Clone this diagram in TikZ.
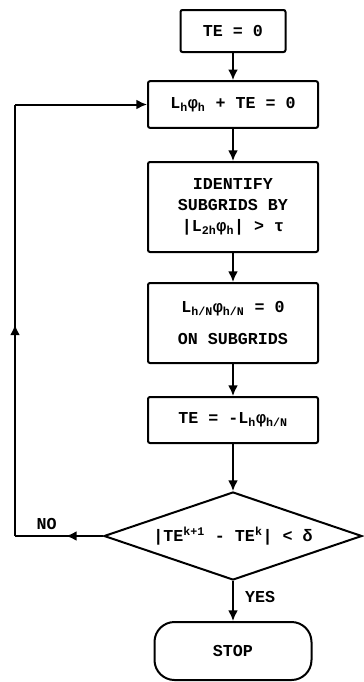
\documentclass[tikz,border=0pt]{standalone}
\usepackage{fontspec}
\setmainfont{Liberation Mono}
\usetikzlibrary{arrows.meta,positioning,shapes.geometric,decorations.markings}
\tikzset{
  >=Latex,
  every picture/.append style={line width=1.5pt},
  every node/.append style={font=\bfseries\fontsize{12.5}{16}\selectfont},
}

\begin{document}
\begin{tikzpicture}[
  x=0.75pt, y=-0.75pt,
  box/.style={
    rectangle,
    draw,
    align=center,
    inner sep=2pt,
    minimum width=127.5pt,
    rounded corners=1.5pt
  },
  test/.style={
    diamond,
    draw,
    inner sep=0pt,
    minimum width=193.5pt,
    minimum height=66pt,
    shape aspect=2.9
  },
  terminal/.style={
    rectangle,
    draw,
    minimum width=117.75pt,
    minimum height=43.5pt,
    rounded corners=15pt
  },
  arrow/.style={-{Latex[length=8pt,width=7.5pt]}},
  midtip/.style={postaction={decorate},
    decoration={markings, mark=at position #1 with {\arrow{Latex[length=8pt,width=7.5pt]}}}}
]
\useasboundingbox (0,0) rectangle (364,682);

% --- main column ---
\node[box, minimum width=78.75pt, minimum height=31.5pt] (init) at (233,31) {TE = 0};
\node[box, minimum height=35pt] (relax) at (233,104.5) {L\textsubscript{h}φ\textsubscript{h} + TE = 0};
\node[box, minimum height=67.5pt] (ident) at (233,207) {IDENTIFY\\SUBGRIDS BY\\|L\textsubscript{2h}φ\textsubscript{h}| > τ};
\node[box, minimum height=60pt] (local) at (233,323) {L\textsubscript{h/N}φ\textsubscript{h/N} = 0\\[8pt]ON SUBGRIDS};
\node[box, minimum height=34.5pt] (trunc) at (233,420) {TE = -L\textsubscript{h}φ\textsubscript{h/N}};
\node[test] (conv) at (233,536) {|TE\textsuperscript{k+1} - TE\textsuperscript{k}| < δ};
\node[terminal] (stop) at (233,651) {STOP};

% Downward flow
\draw[arrow] (init) -- (relax);
\draw[arrow] (relax) -- (ident);
\draw[arrow] (ident) -- (local);
\draw[arrow] (local) -- (trunc);
\draw[arrow] (trunc) -- (conv);
\draw[arrow] (conv) -- node[right=5pt, pos=0.4] {YES} (stop);

% Loop back when not converged
\coordinate (back) at (15,0);
\coordinate (lowc) at (conv.west -| back);
\coordinate (upc) at (relax.west -| back);
\draw[midtip=0.42] (conv.west) -- node[above=1pt, pos=0.64] {NO} (lowc);
\draw[midtip=0.49] (lowc) -- (upc);
\draw[arrow] (upc) -- (relax.west);

\end{tikzpicture}
\end{document}
